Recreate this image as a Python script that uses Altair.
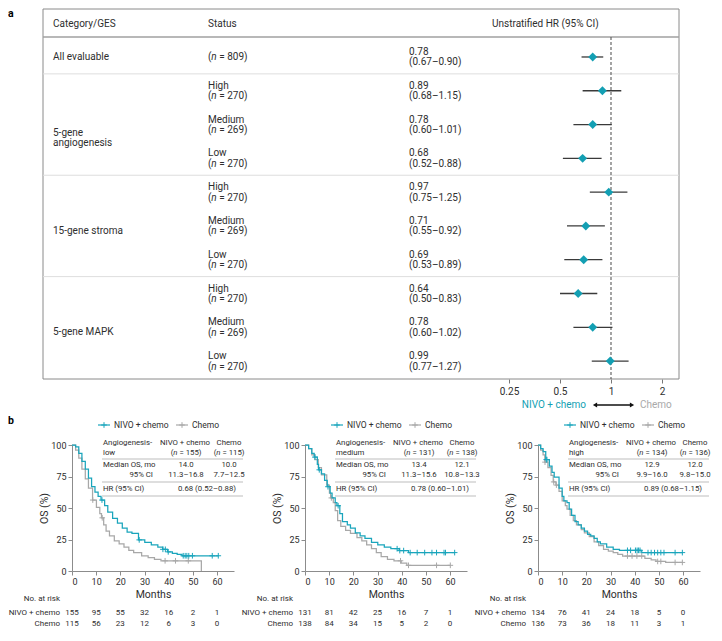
import altair as alt
import pandas as pd

FONT = "Roboto"
TEAL = "#139FB3"
TEAL_KM = "#1AA5BC"
GRAY = "#A8A8A8"
TXT = "#2e2e2e"
AX = "#8c8c8c"

# ------------------------------------------------------------------ panel a data
fp_headers = ["Category/GES", "Status", "Unstratified HR (95% CI)"]
fp_categories = ["All evaluable", "5-gene\nangiogenesis", "15-gene stroma", "5-gene MAPK"]
fp_group_sizes = [1, 3, 3, 3]
fp_status = ["", "High", "Medium", "Low", "High", "Medium", "Low", "High", "Medium", "Low"]
fp_n = [809, 270, 269, 270, 270, 269, 270, 270, 269, 270]
fp_hr = [0.78, 0.89, 0.78, 0.68, 0.97, 0.71, 0.69, 0.64, 0.78, 0.99]
fp_lo = [0.67, 0.68, 0.60, 0.52, 0.75, 0.55, 0.53, 0.50, 0.60, 0.77]
fp_hi = [0.90, 1.15, 1.01, 0.88, 1.25, 0.92, 0.89, 0.83, 1.02, 1.27]
fp_ticks = [0.25, 0.5, 1, 2]
fp_favours = ["NIVO + chemo", "Chemo"]

# ------------------------------------------------------------------ panel b data
legend_labels = ["NIVO + chemo", "Chemo"]
km_subgroup = ["low", "medium", "high"]
km_n = [(155, 115), (131, 138), (134, 136)]
km_median = [("14.0", "10.0"), ("13.4", "12.1"), ("12.9", "12.0")]
km_ci = [("11.3–16.8", "7.7–12.5"), ("11.3–15.6", "10.8–13.3"), ("9.9–16.0", "9.8–15.0")]
km_hr = ["0.68 (0.52–0.88)", "0.78 (0.60–1.01)", "0.89 (0.68–1.15)"]
risk_months = [0, 10, 20, 30, 40, 50, 60]
risk_nivo = [[155, 95, 55, 32, 16, 2, 1], [131, 81, 42, 25, 16, 7, 1], [134, 76, 41, 24, 18, 5, 0]]
risk_chemo = [[115, 56, 23, 12, 6, 3, 0], [138, 84, 34, 15, 5, 2, 0], [136, 73, 36, 18, 11, 3, 1]]

# Kaplan-Meier step points (month, OS %)
nivo_t = [
    [0, 1.5, 2.8, 4.1, 5.5, 6.8, 8.1, 9.5, 10.8, 12.0, 13.5, 14.8, 16.8, 18.8, 20.8, 22.8, 24.8, 27.5, 30.1,
     32.8, 35.5, 37.5, 39.5, 41.5, 43.5, 45.5, 60.5],
    [0, 1.5, 2.8, 3.8, 5.1, 5.6, 6.8, 8.1, 9.2, 10.4, 11.2, 12.5, 13.2, 14.4, 15.5, 17.5, 18.8, 20.8, 22.8,
     24.8, 27.5, 30.1, 32.8, 35.5, 39.0, 42.8, 61.9],
    [0, 1.1, 2.1, 3.2, 4.7, 5.8, 6.7, 8.7, 10.0, 10.7, 12.0, 12.9, 13.9, 15.3, 16.6, 17.9, 19.2, 20.5, 21.8,
     23.2, 24.5, 25.8, 28.4, 31.1, 33.7, 42.9, 60.0],
]
nivo_s = [
    [100, 98.5, 93.4, 87.1, 80.8, 73.7, 66.9, 62.6, 59.3, 56.3, 51.8, 46.7, 41.7, 37.9, 34.1, 30.8, 29.8, 24.7,
     22.7, 20.7, 18.9, 17.2, 15.2, 13.9, 13.1, 12.1, 12.1],
    [100, 97.2, 93.4, 90.4, 84.6, 80.3, 77.0, 72.0, 66.9, 61.9, 58.0, 54.3, 51.8, 45.5, 39.1, 36.6, 34.1, 30.3,
     27.8, 25.8, 22.7, 20.7, 18.9, 17.7, 16.2, 14.6, 14.6],
    [100, 97.2, 94.7, 88.4, 83.3, 78.3, 74.5, 65.7, 59.3, 55.6, 54.3, 49.2, 44.2, 39.1, 36.6, 34.1, 31.6, 29.0,
     27.8, 25.8, 23.2, 21.5, 18.9, 17.2, 16.4, 14.6, 14.6],
]
nivo_cens = [
    [12.4, 27.8, 37.6, 38.6, 39.8, 46.0, 46.8, 47.5, 48.3, 49.8, 58.0, 60.5],
    [4.1, 5.9, 9.5, 13.7, 38.1, 39.2, 40.8, 43.5, 46.4, 49.5, 52.5, 54.4, 57.5, 58.1, 61.9],
    [3.4, 3.7, 37.0, 38.3, 40.3, 41.0, 41.6, 42.2, 45.5, 46.8, 48.2, 49.5, 50.8, 52.1, 56.7, 59.7],
]
chemo_t = [
    [0, 1.5, 2.8, 4.1, 5.5, 6.8, 8.5, 10.1, 11.5, 12.2, 13.1, 14.1, 15.5, 17.5, 19.5, 21.5, 23.5, 25.5, 28.8,
     31.5, 34.1, 36.8, 53.5],
    [0, 1.5, 2.8, 4.1, 5.5, 6.8, 9.0, 10.1, 10.6, 11.7, 12.5, 13.5, 14.8, 16.8, 18.8, 21.5, 23.5, 25.5, 27.5,
     29.5, 31.5, 34.1, 36.8, 39.8, 42.1, 60.1],
    [0, 1.1, 2.1, 2.8, 4.1, 5.4, 6.3, 7.4, 8.7, 10.0, 11.3, 12.0, 13.3, 14.6, 15.9, 17.9, 19.2, 21.2, 23.2,
     25.1, 27.1, 29.1, 31.1, 33.0, 35.0, 44.2, 46.8, 48.8, 52.8, 60.0],
]
chemo_s = [
    [100, 96.0, 89.6, 80.8, 73.2, 65.7, 56.3, 50.5, 45.5, 42.2, 36.6, 31.6, 27.8, 24.0, 21.5, 18.9, 16.4, 14.6,
     12.1, 10.6, 9.3, 8.1, 0],
    [100, 97.2, 92.2, 88.4, 82.0, 76.3, 68.2, 61.9, 58.0, 54.3, 48.0, 39.9, 35.4, 32.3, 29.8, 26.5, 24.0, 20.7,
     17.7, 14.6, 11.4, 9.3, 8.1, 6.3, 4.5, 4.5],
    [100, 96.0, 92.2, 86.4, 82.0, 75.8, 70.7, 68.2, 63.1, 55.6, 51.8, 49.2, 44.2, 39.9, 36.6, 32.8, 30.3, 27.3,
     23.2, 20.2, 17.2, 15.7, 14.6, 13.1, 11.9, 10.1, 8.8, 7.6, 6.8, 6.8],
]
chemo_cens = [
    [8.6, 12.5, 38.5, 42.8, 48.1],
    [10.9, 39.5, 42.8, 54.4, 60.1],
    [2.9, 6.5, 7.6, 37.0, 38.9, 40.9, 42.9, 49.5, 50.8, 56.7, 59.7],
]


# ------------------------------------------------------------------ helpers
def one(**kw):
    return pd.DataFrame({k: [v] for k, v in kw.items()})


def T(text, x, y, size, color=TXT, align="left", baseline="middle", weight="normal", style="normal"):
    return alt.Chart(one(t=text)).mark_text(
        align=align, baseline=baseline, fontSize=size, color=color, fontWeight=weight,
        fontStyle=style, font=FONT).encode(text="t:N", x=alt.value(x), y=alt.value(y))


ADV = {"(": 0.333, ")": 0.338, " ": 0.248, "=": 0.537, "n": 0.552}
N_ITALIC = 0.545


def adv(s, size):
    return sum(ADV.get(c, 0.5615) for c in s) * size


def n_parts(nval, x, y, size):
    rest = f"= {nval})"
    w0, w1, w2 = adv("(", size), N_ITALIC * size, adv(" ", size)
    x0 = x - (w0 + w1 + w2 + adv(rest, size)) / 2
    return [T("(", x0, y, size), T("n", x0 + w0, y, size, style="italic"),
            T(rest, x0 + w0 + w1 + w2, y, size)]


def step_at(ts, ss, t):
    v = ss[0]
    for ti, si in zip(ts, ss):
        if ti <= t:
            v = si
    return v


# ------------------------------------------------------------------ panel a (forest)
# plot origin is shared with the first KM panel; the table box starts BOX_L px left of it
BOX_L = -29
FW, FH = 607, 370
Y_DOM = [-1.42, 9.53]
ROWPX = FH / (Y_DOM[1] - Y_DOM[0])


def rows(px):
    return px / ROWPX


HR1_X, PX_PER_DOUBLING = 539, 51.0
xs = alt.Scale(type="log", nice=False,
               domain=[2 ** (-HR1_X / PX_PER_DOUBLING), 2 ** ((FW - HR1_X) / PX_PER_DOUBLING)])
ys = alt.Scale(domain=Y_DOM, reverse=True, nice=False, zero=False)
x_ax = alt.Axis(values=fp_ticks, format="~g", title=None, grid=False, domain=False, tickSize=4,
                tickColor="#777777", labelFontSize=10, labelColor=TXT, labelPadding=3, labelFont=FONT)


def FY(f):
    return alt.Y(f, scale=ys, axis=None)


def FX(f):
    return alt.X(f, scale=xs, axis=x_ax)


FS = 10
COL_CAT, COL_STATUS, COL_HR, COL_HRHEAD = BOX_L + 10, 136, 337, 420
HEAD_LINE = Y_DOM[0] + rows(28)
HEAD_TEXT = Y_DOM[0] + rows(15)

nrow = len(fp_hr)
fdf = pd.DataFrame({"row": list(range(nrow)), "status": fp_status, "n": fp_n,
                    "hr": fp_hr, "lo": fp_lo, "hi": fp_hi})
fdf["hr_txt"] = [f"{v:.2f}" for v in fp_hr]
fdf["ci_txt"] = [f"({a:.2f}–{b:.2f})" for a, b in zip(fp_lo, fp_hi)]
fdf["n_txt"] = [f"= {v})" for v in fp_n]
fdf["y1"] = fdf["row"] - rows(5)
fdf["y2"] = fdf["row"] + rows(5.5)
fdf["yn"] = [r if s == "" else r + rows(5.5) for r, s in zip(fdf["row"], fp_status)]

starts, s0 = [], 0
for g in fp_group_sizes:
    starts.append(s0)
    s0 += g
seps = [st - 0.5 for st in starts[1:]]
cat_y = []
for st, g, c in zip(starts, fp_group_sizes, fp_categories):
    mid = st + (g - 1) / 2
    off = 0 if g == 1 else (8 if "\n" in c else 5)
    cat_y.append(mid + rows(off))

fl = []
fl.append(alt.Chart(one(v=0)).mark_rect(fill="white", fillOpacity=0, stroke="#8a8a8a", strokeWidth=1)
          .encode(x=alt.value(BOX_L), x2=alt.value(FW), y=alt.value(0), y2=alt.value(FH)))
fl.append(alt.Chart(pd.DataFrame({"v": seps})).mark_rule(color="#dedede", strokeWidth=1)
          .encode(x=alt.value(BOX_L), x2=alt.value(FW), y=FY("v:Q")))
fl.append(alt.Chart(one(v=HEAD_LINE)).mark_rule(color="#a0a0a0", strokeWidth=1.6)
          .encode(x=alt.value(BOX_L), x2=alt.value(FW), y=FY("v:Q")))
fl.append(alt.Chart(one(hr=1, a=HEAD_LINE, b=Y_DOM[1])).mark_rule(color="#5a5a5a", strokeWidth=1.1,
                                                                   strokeDash=[3, 2])
          .encode(x=FX("hr:Q"), y=FY("a:Q"), y2="b:Q"))
fl.append(alt.Chart(fdf).mark_rule(color="#3a3a3a", strokeWidth=1.3)
          .encode(x=FX("lo:Q"), x2="hi:Q", y=FY("row:Q")))
fl.append(alt.Chart(fdf).mark_point(shape="diamond", filled=True, size=80, color=TEAL, opacity=1)
          .encode(x=FX("hr:Q"), y=FY("row:Q")))
for txt, xx in zip(fp_headers, [COL_CAT, COL_STATUS, COL_HRHEAD]):
    fl.append(alt.Chart(one(t=txt, y=HEAD_TEXT)).mark_text(align="left", fontSize=FS, color=TXT, font=FONT)
              .encode(text="t:N", x=alt.value(xx), y=FY("y:Q")))
fl.append(alt.Chart(pd.DataFrame({"t": fp_categories, "y": cat_y}))
          .mark_text(align="left", fontSize=FS, color=TXT, font=FONT, lineBreak="\n", lineHeight=10.5)
          .encode(text="t:N", x=alt.value(COL_CAT), y=FY("y:Q")))
sdf = fdf[fdf["status"] != ""]
fl.append(alt.Chart(sdf).mark_text(align="left", fontSize=FS, color=TXT, font=FONT)
          .encode(text="status:N", x=alt.value(COL_STATUS), y=FY("y1:Q")))
w0, w1, w2 = adv("(", FS), N_ITALIC * FS, adv(" ", FS)
fl.append(alt.Chart(fdf.assign(p="(")).mark_text(align="left", fontSize=FS, color=TXT, font=FONT)
          .encode(text="p:N", x=alt.value(COL_STATUS), y=FY("yn:Q")))
fl.append(alt.Chart(fdf.assign(p="n")).mark_text(align="left", fontSize=FS, color=TXT, font=FONT,
                                                 fontStyle="italic")
          .encode(text="p:N", x=alt.value(COL_STATUS + w0), y=FY("yn:Q")))
fl.append(alt.Chart(fdf).mark_text(align="left", fontSize=FS, color=TXT, font=FONT)
          .encode(text="n_txt:N", x=alt.value(COL_STATUS + w0 + w1 + w2), y=FY("yn:Q")))
fl.append(alt.Chart(fdf).mark_text(align="left", fontSize=FS, color=TXT, font=FONT)
          .encode(text="hr_txt:N", x=alt.value(COL_HR), y=FY("y1:Q")))
fl.append(alt.Chart(fdf).mark_text(align="left", fontSize=FS, color=TXT, font=FONT)
          .encode(text="ci_txt:N", x=alt.value(COL_HR), y=FY("y2:Q")))
AY = FH + 26
fl.append(T(fp_favours[0], 514, AY, FS, color=TEAL, align="right"))
fl.append(T(fp_favours[1], 568, AY, FS, color="#a9a9a9"))
fl.append(alt.Chart(one(v=0)).mark_rule(color="#111111", strokeWidth=1.4)
          .encode(x=alt.value(523), x2=alt.value(560), y=alt.value(AY)))
fl.append(alt.Chart(one(v=0)).mark_point(shape="triangle-left", filled=True, size=24, color="#111111", opacity=1)
          .encode(x=alt.value(523), y=alt.value(AY)))
fl.append(alt.Chart(one(v=0)).mark_point(shape="triangle-right", filled=True, size=24, color="#111111", opacity=1)
          .encode(x=alt.value(560), y=alt.value(AY)))
fl.append(T("a", -64, 0, 10.5, color="#000000", weight="bold", baseline="top"))

forest = alt.layer(*fl).properties(width=FW, height=FH)

# ------------------------------------------------------------------ panel b (KM)
W, H = 162, 126
kx = alt.Scale(domain=[0, 67], nice=False, zero=False)
ky = alt.Scale(domain=[0, 100], nice=False)
kx_ax = alt.Axis(values=risk_months, title="Months", grid=False, domainColor=AX, tickColor=AX, tickSize=4,
                 labelFontSize=9, labelColor=TXT, labelPadding=2, titleFontSize=10.5,
                 titleFontWeight="normal", titleColor=TXT, titlePadding=3, labelFont=FONT, titleFont=FONT)
ky_ax = alt.Axis(values=[0, 25, 50, 75, 100], title="OS (%)", grid=False, domainColor=AX, tickColor=AX,
                 tickSize=4, labelFontSize=9, labelColor=TXT, labelPadding=2, titleFontSize=10.5,
                 titleFontWeight="normal", titleColor=TXT, titlePadding=1, labelFont=FONT, titleFont=FONT)
CROSS = "M-1,0L1,0M0,-1L0,1"
KS = 7.8


def KX(f):
    return alt.X(f, scale=kx, axis=kx_ax)


def KY(f):
    return alt.Y(f, scale=ky, axis=ky_ax)


def km_panel(i):
    L = []
    for ts, ss, cs, col in [(chemo_t[i], chemo_s[i], chemo_cens[i], GRAY),
                            (nivo_t[i], nivo_s[i], nivo_cens[i], TEAL_KM)]:
        L.append(alt.Chart(pd.DataFrame({"t": ts, "s": ss}))
                 .mark_line(interpolate="step-after", color=col, strokeWidth=1.25)
                 .encode(x=KX("t:Q"), y=KY("s:Q")))
        L.append(alt.Chart(pd.DataFrame({"t": cs, "s": [step_at(ts, ss, c) for c in cs]}))
                 .mark_point(shape=CROSS, size=32, filled=False, color=col, strokeWidth=1, opacity=1)
                 .encode(x=KX("t:Q"), y=KY("s:Q")))
    for (x_sym, label, col) in [(32, legend_labels[0], TEAL_KM), (110, legend_labels[1], GRAY)]:
        L.append(alt.Chart(one(v=0)).mark_rule(color=col, strokeWidth=1.2)
                 .encode(x=alt.value(x_sym - 6), x2=alt.value(x_sym + 6), y=alt.value(-20)))
        L.append(alt.Chart(one(v=0)).mark_point(shape=CROSS, size=32, filled=False, color=col, strokeWidth=1,
                                                opacity=1)
                 .encode(x=alt.value(x_sym), y=alt.value(-20)))
        L.append(T(label, x_sym + 10, -20, 8.5))
    c1, c2, c3, cci, chr_ = 31, 114, 157, 81, 135
    r1, r2, l1, r3, r4, l2, r5, l3 = -2, 7.5, 14, 20, 29.5, 37, 43.5, 51
    L.append(T("Angiogenesis-", c1, r1, KS))
    L.append(T(km_subgroup[i], c1, r2, KS))
    L.append(T(legend_labels[0], c2 - 1, r1, KS, align="center"))
    L.append(T(legend_labels[1], c3, r1, KS, align="center"))
    L += n_parts(km_n[i][0], c2, r2, KS)
    L += n_parts(km_n[i][1], c3, r2, KS)
    L.append(T("Median OS, mo", c1, r3, KS))
    L.append(T(km_median[i][0], c2, r3, KS, align="center"))
    L.append(T(km_median[i][1], c3, r3, KS, align="center"))
    L.append(T("95% CI", cci, r4, KS, align="right"))
    L.append(T(km_ci[i][0], c2, r4, KS, align="center"))
    L.append(T(km_ci[i][1], c3, r4, KS, align="center"))
    L.append(T("HR (95% CI)", c1, r5, KS))
    L.append(T(km_hr[i], chr_, r5, KS, align="center"))
    for yy in (l1, l2, l3):
        L.append(alt.Chart(one(v=0)).mark_rule(color="#b5b5b5", strokeWidth=0.9)
                 .encode(x=alt.value(c1 - 1), x2=alt.value(171), y=alt.value(yy)))
    for vals, yy in [(risk_nivo[i], H + 42), (risk_chemo[i], H + 53)]:
        L.append(alt.Chart(pd.DataFrame({"m": risk_months, "n": vals}))
                 .mark_text(fontSize=8, color=TXT, font=FONT, align="center")
                 .encode(x=KX("m:Q"), y=alt.value(yy), text="n:Q"))
    L.append(T("No. at risk", -12, H + 28, 8))
    L[-1] = T("No. at risk", -12, H + 28, 8, align="right")
    L.append(T(legend_labels[0], -12, H + 42, 8, align="right"))
    L.append(T(legend_labels[1], -12, H + 53, 8, align="right"))
    if i == 0:
        L.append(T("b", -64, -24, 10.5, color="#000000", weight="bold"))
    return alt.layer(*L).properties(width=W, height=H)


km_row = alt.hconcat(*[km_panel(i) for i in range(3)], spacing=71, bounds="flush")

chart = (alt.vconcat(forest, km_row, spacing=6)
         .properties(padding=0)
         .configure(font=FONT)
         .configure_view(stroke=None))

chart.save("out.html", embed_options={"renderer": "svg", "actions": False})
